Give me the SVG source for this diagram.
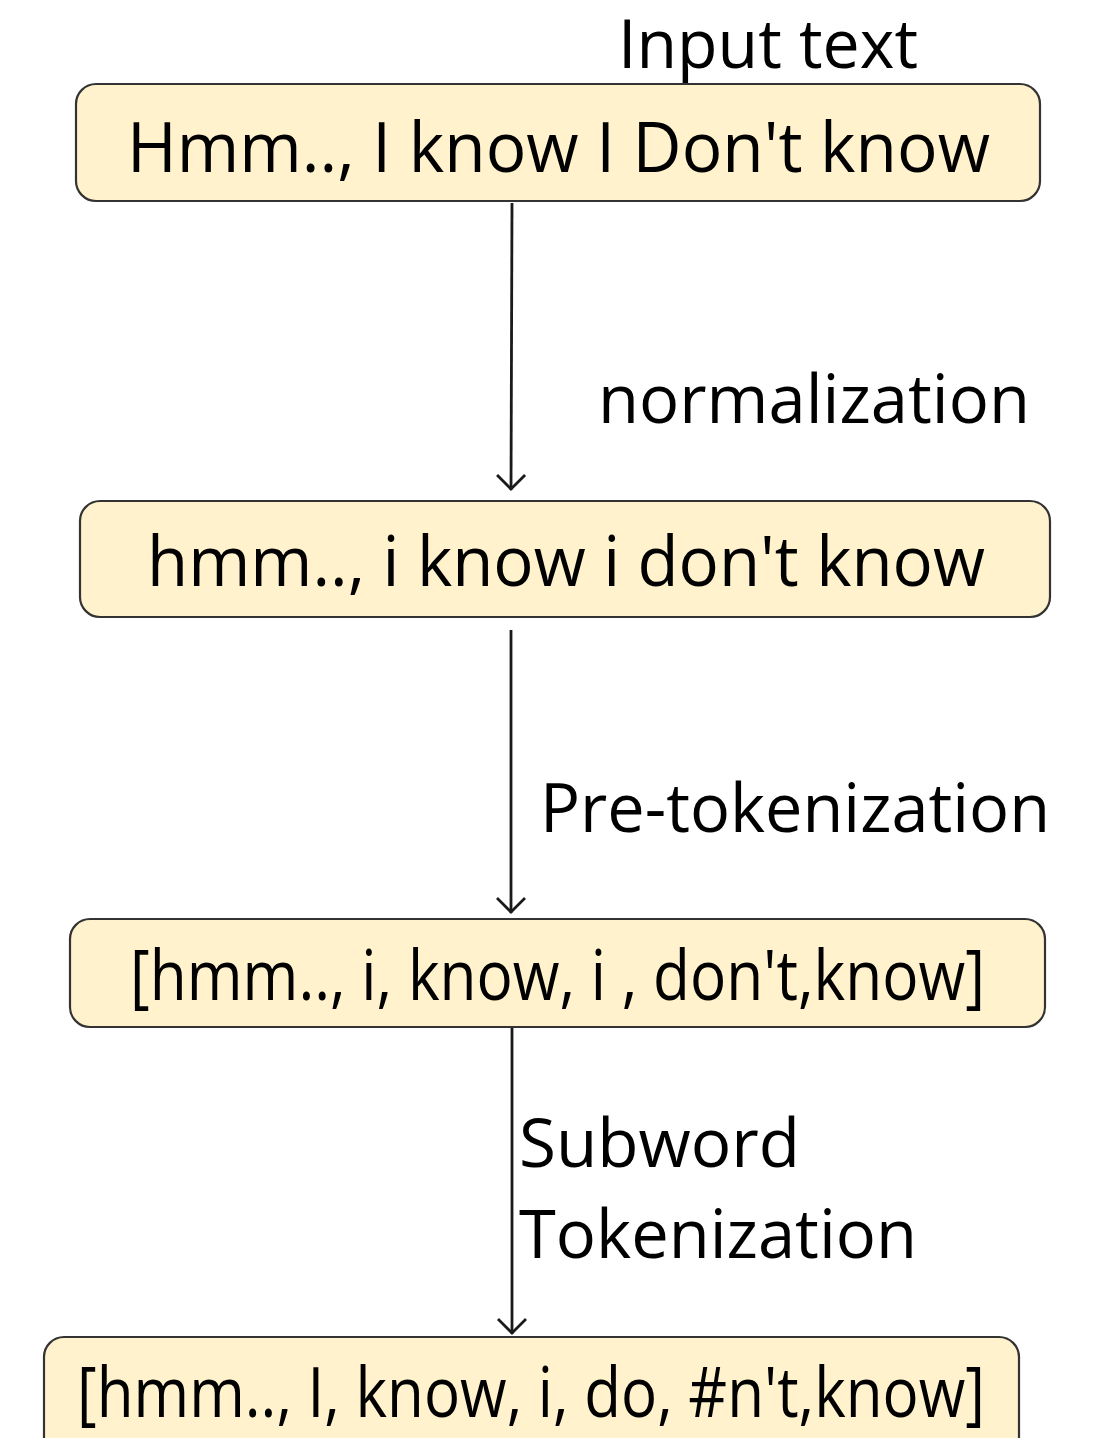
<svg xmlns="http://www.w3.org/2000/svg" width="1099" height="1438" viewBox="0 0 1099 1438">
  <style>
    .box { fill: #fff2cc; stroke: #333333; stroke-width: 2.2; }
    .t { font-family: "Open Sans", "Noto Sans", sans-serif; fill: #000000; font-size: 70px; }
    .lbl { font-family: "Open Sans", "Noto Sans", sans-serif; fill: #000000; font-size: 68px; }
    .edge { stroke: #1a1a1a; stroke-width: 2.8; fill: none; marker-end: url(#chev); }
  </style>
  <defs>
    <!-- open chevron arrowhead, drawn along +x so orient="auto" points it down the line -->
    <marker id="chev" viewBox="0 0 20 32" refX="18" refY="16" markerWidth="20" markerHeight="32" markerUnits="userSpaceOnUse" orient="auto">
      <path d="M3 2 L17 16 L3 30" fill="none" stroke="#1a1a1a" stroke-width="2.8" stroke-linejoin="miter"/>
    </marker>
  </defs>
  <rect width="1099" height="1438" fill="#ffffff"/>

  <g id="connectors">
    <line class="edge" x1="512" y1="203" x2="511" y2="490"/>
    <line class="edge" x1="511" y1="630" x2="511" y2="913"/>
    <line class="edge" x1="512" y1="1028" x2="512" y2="1334"/>
  </g>

  <g id="edge-labels">
    <text class="lbl" x="618" y="68" textLength="300" lengthAdjust="spacingAndGlyphs">Input text</text>
    <text class="lbl" x="598" y="423" textLength="432" lengthAdjust="spacingAndGlyphs">normalization</text>
    <text class="lbl" x="540" y="832" textLength="510" lengthAdjust="spacingAndGlyphs">Pre-tokenization</text>
    <text class="lbl" x="519" y="1167" textLength="281" lengthAdjust="spacingAndGlyphs">Subword</text>
    <text class="lbl" x="519" y="1258" textLength="398" lengthAdjust="spacingAndGlyphs">Tokenization</text>
  </g>

  <g id="node-input">
    <rect class="box" x="76" y="84" width="964" height="117" rx="20"/>
    <text class="t" x="127" y="172" textLength="863" lengthAdjust="spacingAndGlyphs">Hmm.., I know I Don't know</text>
  </g>

  <g id="node-normalized">
    <rect class="box" x="80" y="501" width="970" height="116" rx="20"/>
    <text class="t" x="147" y="586" textLength="838" lengthAdjust="spacingAndGlyphs">hmm.., i know i don't know</text>
  </g>

  <g id="node-pretokenized">
    <rect class="box" x="70" y="919" width="975" height="108" rx="20"/>
    <text class="t" x="130" y="1000" textLength="855" lengthAdjust="spacingAndGlyphs">[hmm.., i, know, i , don't,know]</text>
  </g>

  <g id="node-subwords">
    <rect class="box" x="44" y="1337" width="975" height="120" rx="20"/>
    <text class="t" x="77" y="1417" textLength="908" lengthAdjust="spacingAndGlyphs">[hmm.., I, know, i, do, #n't,know]</text>
  </g>
</svg>
